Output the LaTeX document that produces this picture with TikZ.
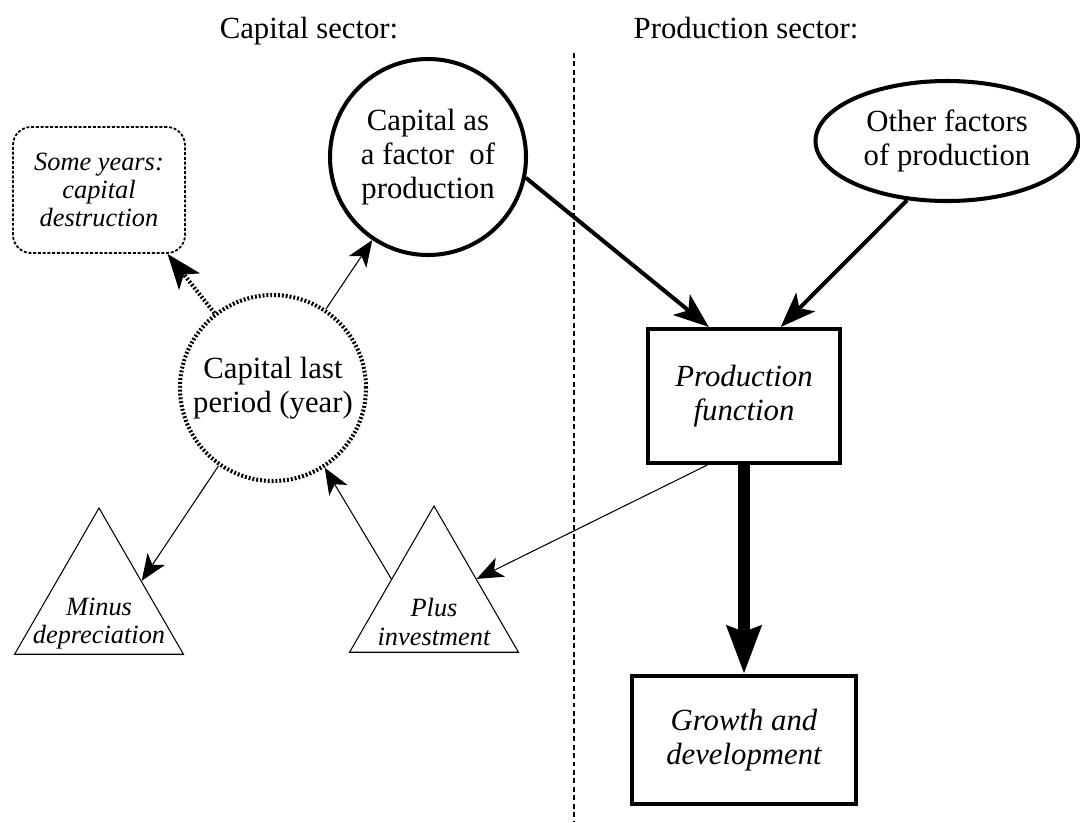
\documentclass[tikz,border=0pt]{standalone}
\usepackage{fontspec}
\setmainfont{Liberation Serif}
\usetikzlibrary{arrows.meta,positioning,shapes.geometric}

\begin{document}
\begin{tikzpicture}
\tikzset{node distance=2cm,
    bigfont/.style={font=\fontsize{17.5}{19.5}\selectfont, align=center},
    smallit/.style={font=\fontsize{15}{16}\selectfont\itshape, align=center},
    factorcirc/.style={circle, draw, line width=2.3pt, minimum size=3.92cm, inner sep=0pt, bigfont},
    lastcirc/.style={circle, draw, line width=2.3pt, dash pattern=on 1.1pt off 1.1pt, minimum size=3.72cm, inner sep=0pt, bigfont},
    otherell/.style={ellipse, draw, line width=2.3pt, minimum width=5.26cm, minimum height=2.4cm, inner sep=0pt, bigfont},
    block/.style={rectangle, draw, line width=2.3pt, inner sep=0pt, bigfont, font=\fontsize{17.5}{19.5}\selectfont\itshape},
    dotbox/.style={rectangle, rounded corners=0.36cm, draw, line width=1pt, dash pattern=on 1.7pt off 1pt, minimum width=3.44cm, minimum height=2.52cm, inner sep=0pt, smallit},
    tri/.style={regular polygon, regular polygon sides=3, draw, line width=0.6pt, minimum size=3.9cm, inner sep=0pt},
    thinarrow/.style={line width=0.6pt, -{Stealth[length=15pt, width=12pt, inset=4pt]}},
    thickarrow/.style={line width=2.3pt, -{Stealth[length=20pt, width=15pt, inset=5pt]}},
    dotarrow/.style={thickarrow, dash pattern=on 1.1pt off 1.1pt},
    fatarrow/.style={line width=6.8pt, -{Stealth[length=27pt, width=19pt, inset=3pt]}},
    divider/.style={line width=1pt, dash pattern=on 2.8pt off 2pt}
}
  \useasboundingbox (0,0) rectangle (21.6,-16.44);

  \node[bigfont, anchor=base] (captitle) at (6.18,-0.76) {Capital sector:};
  \node[bigfont, anchor=base] (prodtitle) at (14.92,-0.76) {Production sector:};
  \coordinate (divtop) at (11.48,-1.06);
  \coordinate (divbot) at (11.48,-16.44);
  \draw[divider] (divtop) -- (divbot);

  \node[factorcirc] (factor) at (8.56,-3.14) {Capital as\\a factor~ of\\production};
  \node[otherell] (other) at (18.94,-2.82) {Other factors\\of production};
  \node[dotbox] (some) at (1.98,-3.80) {Some years:\\capital\\destruction};
  \node[lastcirc] (last) at (5.46,-7.76) {Capital last\\period (year)};
  \node[tri, below of=some, node distance=83.1mm,
        label={[smallit, yshift=-0.37cm]center:{Minus\\depreciation}}] (minus) {};
  \node[tri, label={[smallit, yshift=-0.37cm]center:{Plus\\investment}}] (plus) at (8.68,-12.07) {};
  \node[block, minimum width=3.84cm, minimum height=2.68cm] (prod) at (14.88,-7.92) {Production\\function};
  \node[block, below of=prod, node distance=68.8mm, minimum width=4.48cm, minimum height=2.56cm] (growth) {Growth and\\development};

  \draw[thickarrow] (factor.-12) -- (prod.117);
  \draw[thickarrow] (other.236) -- (prod.62);
  \draw[fatarrow] (prod) -- (growth);
  \draw[thinarrow] (prod.242) -- (plus.side 3);
  \draw[thinarrow] (plus.side 1) -- (last.-57);
  \draw[thinarrow] (last.235) -- (minus.side 3);
  \draw[thinarrow] (last) -- (factor);
  \draw[dotarrow] (last.128) -- (some.-43);
\end{tikzpicture}
\end{document}
